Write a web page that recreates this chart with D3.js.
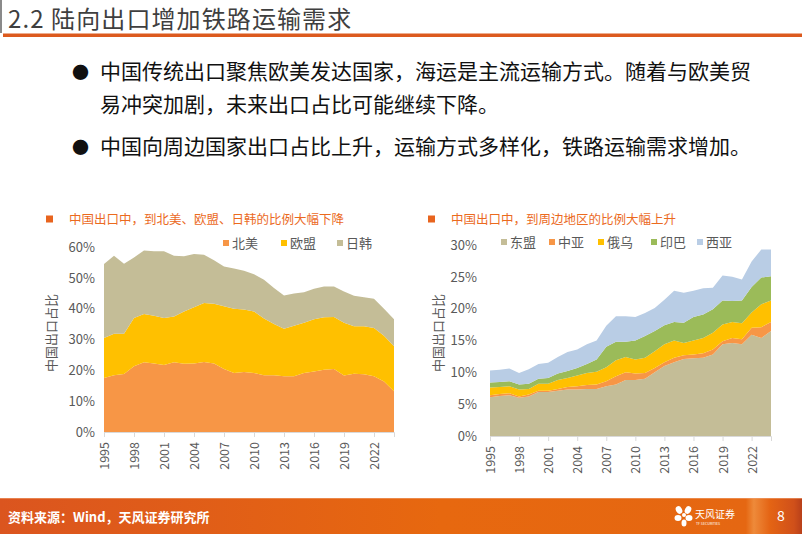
<!DOCTYPE html>
<html><head><meta charset="utf-8">
<script src="https://cdn.jsdelivr.net/npm/d3@7/dist/d3.min.js"></script>
<style>
body{margin:0;background:#fff;}
svg{display:block;font-family:"Noto Sans CJK SC","Noto Sans",sans-serif;}
</style></head><body>
<svg id="c" width="802" height="534"></svg>
<script>
// ---------------- DATA ----------------
const years=[1995,1996,1997,1998,1999,2000,2001,2002,2003,2004,2005,2006,2007,2008,2009,2010,2011,2012,2013,2014,2015,2016,2017,2018,2019,2020,2021,2022,2023,2024];
const tickYears=[1995,1998,2001,2004,2007,2010,2013,2016,2019,2022];

const leftKeys=["北美","欧盟","日韩"];
const northAmerica=[17.5,18.4,18.8,21.3,22.6,22.2,21.7,22.6,22.1,22.2,22.7,22.2,20.4,19.1,19.5,19.1,18.4,18.4,18.1,18.1,19.1,19.6,20.2,20.4,18.3,18.9,18.7,18.1,16.4,13.2];
const euShare=[13.0,13.5,13.1,15.7,15.7,15.5,15.3,14.9,17.0,18.3,19.1,19.4,20.4,20.9,20.2,20.0,18.4,16.6,15.4,16.4,16.3,17.0,17.0,16.9,17.1,15.4,15.6,15.6,14.8,14.6];
const japanKorea=[24.0,25.3,22.7,19.6,20.6,20.9,21.6,19.7,17.9,17.2,15.7,14.1,12.9,13.0,12.6,12.1,12.6,11.7,10.8,10.4,9.9,9.9,10.0,9.9,10.2,9.9,9.4,9.5,8.8,8.8];
const leftYTicks=[0,10,20,30,40,50,60];

const rightKeys=["东盟","中亚","俄乌","印巴","西亚"];
const asean=[6.1,6.3,6.4,6.0,6.2,6.9,6.9,7.1,7.3,7.3,7.4,7.4,7.8,8.1,8.8,8.8,9.0,10.0,11.0,11.6,12.1,12.2,12.3,12.8,14.4,14.6,14.4,15.9,15.4,16.5];
const centralAsia=[0.3,0.3,0.3,0.2,0.3,0.2,0.2,0.3,0.4,0.5,0.6,0.7,0.8,1.3,1.2,1.0,0.9,0.7,0.6,0.7,0.6,0.6,0.7,0.8,0.5,0.8,0.8,1.1,1.7,1.4];
const russiaUkraine=[1.2,1.1,1.1,1.1,0.9,1.1,1.1,1.4,1.4,1.7,1.9,2.0,2.2,2.5,2.4,2.2,2.4,2.6,2.8,2.7,1.9,2.2,2.4,2.6,2.6,2.5,2.5,2.4,3.6,3.4];
const indiaPakistan=[0.8,0.8,0.8,0.8,0.8,0.8,0.9,1.0,1.1,1.2,1.4,1.9,3.2,2.9,2.4,3.0,3.4,3.2,3.0,2.9,3.2,3.7,3.7,3.7,3.8,3.3,3.6,4.0,4.2,3.8];
const westAsia=[1.9,1.9,2.0,1.8,2.3,2.3,2.4,2.6,3.0,2.9,3.1,3.0,3.3,4.0,4.0,3.7,3.6,3.6,4.0,4.9,4.7,4.1,4.1,3.4,3.9,3.8,3.3,4.0,4.4,4.2];
const rightYTicks=[0,5,10,15,20,25,30];

const pageTitle="2.2 陆向出口增加铁路运输需求";
const bullets=[["中国传统出口聚焦欧美发达国家，海运是主流运输方式。随着与欧美贸","易冲突加剧，未来出口占比可能继续下降。"],["中国向周边国家出口占比上升，运输方式多样化，铁路运输需求增加。"]];
const leftTitle="中国出口中，到北美、欧盟、日韩的比例大幅下降";
const rightTitle="中国出口中，到周边地区的比例大幅上升";
const yAxisTitle="中国出口占比";
const footerText="资料来源：Wind，天风证券研究所";

// ---------------- DRAW ----------------
const svg=d3.select("#c");
const defs=svg.append("defs");
const grad=defs.append("linearGradient").attr("id","fg").attr("x1","0").attr("x2","1");
grad.append("stop").attr("offset","0").attr("stop-color","#DB551F");
grad.append("stop").attr("offset","0.55").attr("stop-color","#E7680F");
grad.append("stop").attr("offset","0.93").attr("stop-color","#E56712");
grad.append("stop").attr("offset","0.94").attr("stop-color","#EE8A3A");
grad.append("stop").attr("offset","0.96").attr("stop-color","#E46414");
grad.append("stop").attr("offset","0.99").attr("stop-color","#D0501A");
grad.append("stop").attr("offset","1").attr("stop-color","#B8401A");

// header
svg.append("rect").attr("x",0).attr("y",0).attr("width",2).attr("height",33).attr("fill","#8a8a8a");
svg.append("text").attr("x",8).attr("y",28).attr("font-size",24).attr("letter-spacing",1.1).attr("fill","#3f3f3f").text(pageTitle);
svg.append("rect").attr("x",3).attr("y",33.5).attr("width",799).attr("height",3.5).attr("fill","#DC5A1E");

// bullets
const bulletFont=21;
let by=[79,112,154];
let li=0;
bullets.forEach((b)=>{
  svg.append("text").attr("x",72).attr("y",by[li]).attr("font-size",17).attr("fill","#111").text("●");
  b.forEach(line=>{
    svg.append("text").attr("x",100).attr("y",by[li]).attr("font-size",bulletFont).attr("fill","#111").text(line);
    li++;
  });
});

function drawChart(cfg){
  const g=svg.append("g");
  const rows=years.map((y,i)=>{const r={year:y};cfg.keys.forEach((k,j)=>r[k]=cfg.series[j][i]);return r;});
  const stack=d3.stack().keys(cfg.keys)(rows);
  const x=d3.scaleLinear().domain([years[0],years[years.length-1]]).range([cfg.x0,cfg.x1]);
  const y=d3.scaleLinear().domain([0,cfg.yMax]).range([cfg.y0,cfg.y1]);
  const area=d3.area().x(d=>x(d.data.year)).y0(d=>y(d[0])).y1(d=>y(d[1]));
  g.selectAll("path.a").data(stack).join("path").attr("d",area).attr("fill",(d,i)=>cfg.colors[i]);
  // x axis
  const xa=g.append("g").attr("transform",`translate(0,${cfg.y0})`)
    .call(d3.axisBottom(x).tickValues(tickYears).tickFormat(d3.format("d")).tickSize(5).tickPadding(0));
  xa.select(".domain").attr("stroke","#D9D9D9");
  xa.selectAll(".tick line").attr("stroke","#D9D9D9");
  xa.selectAll("text").attr("font-size",12.5).attr("fill","#595959").attr("font-family","Noto Sans CJK SC")
    .attr("transform","rotate(-90)").attr("text-anchor","end").attr("x",-10).attr("y",0).attr("dy","0.36em");
  // y axis
  const ya=g.append("g").attr("transform",`translate(${cfg.x0},0)`)
    .call(d3.axisLeft(y).tickValues(cfg.yTicks).tickFormat(d=>d+"%").tickSize(0).tickPadding(cfg.pad));
  ya.select(".domain").remove();
  ya.selectAll("text").attr("font-size",13).attr("fill","#595959").attr("font-family","Noto Sans CJK SC");
  // y title
  g.append("text").attr("transform",`translate(${cfg.titleX},${cfg.titleY}) rotate(-90)`).attr("text-anchor","middle")
    .attr("dy","0.35em").attr("font-size",13).attr("fill","#595959").text(yAxisTitle);
  // chart subtitle
  g.append("rect").attr("x",cfg.subX).attr("y",215.5).attr("width",7).attr("height",7).attr("fill","#E8641E");
  g.append("text").attr("x",cfg.subX+23).attr("y",223.5).attr("font-size",12.5).attr("fill","#EB6A1E").text(cfg.subtitle);
  // legend
  cfg.keys.forEach((k,i)=>{
    g.append("rect").attr("x",cfg.legX[i]).attr("y",cfg.legY-3).attr("width",6).attr("height",6).attr("fill",cfg.colors[i]);
    g.append("text").attr("x",cfg.legX[i]+9).attr("y",cfg.legY).attr("dy","0.35em").attr("font-size",13).attr("fill","#595959").text(k);
  });
}

drawChart({keys:leftKeys,series:[northAmerica,euShare,japanKorea],colors:["#F79646","#FFC000","#C4BD97"],
  x0:104,x1:394,y0:432,y1:247,yMax:60,yTicks:leftYTicks,pad:9,titleX:51,titleY:333,
  subX:46,subtitle:leftTitle,legX:[223,281,337],legY:243});
drawChart({keys:rightKeys,series:[asean,centralAsia,russiaUkraine,indiaPakistan,westAsia],colors:["#C4BD97","#F79646","#FFC000","#9BBB59","#B9CDE5"],
  x0:490,x1:771,y0:436,y1:245,yMax:30,yTicks:rightYTicks,pad:13,titleX:438,titleY:333,
  subX:428,subtitle:rightTitle,legX:[501,549,598,651,697],legY:242});

// footer
svg.append("rect").attr("x",0).attr("y",498).attr("width",802).attr("height",36).attr("fill","url(#fg)");
svg.append("rect").attr("x",0).attr("y",498).attr("width",802).attr("height",1).attr("fill","#F0A070").attr("opacity",0.6);
svg.append("text").attr("x",8).attr("y",522).attr("font-size",13).attr("font-weight","bold").attr("fill","#fff").text(footerText);
// logo
const lg=svg.append("g").attr("transform","translate(684,516)").attr("fill","#fff");
[[-5,-6,3,4,-30],[4,-6,3,4,30],[-6,2,3.5,3,0],[5,2,3.5,3,0],[0,7,2.5,3.5,0],[0,-1,2,2,0]].forEach(p=>{
  lg.append("ellipse").attr("cx",p[0]).attr("cy",p[1]).attr("rx",p[2]).attr("ry",p[3]).attr("transform",`rotate(${p[4]},${p[0]},${p[1]})`);
});
svg.append("text").attr("x",695).attr("y",518).attr("font-size",10).attr("fill","#fff").text("天风证券");
svg.append("text").attr("x",696).attr("y",525).attr("font-size",3.5).attr("fill","#fff").text("TF SECURITIES");
svg.append("text").attr("x",777).attr("y",521).attr("font-size",14).attr("fill","#fff").text("8");
</script>
</body></html>
